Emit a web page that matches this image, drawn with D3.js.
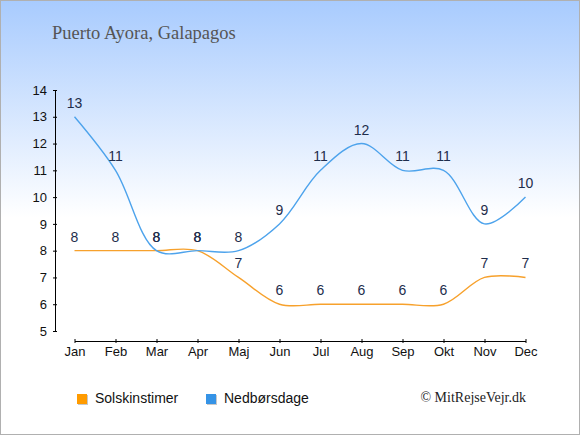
<!DOCTYPE html>
<html>
<head>
<meta charset="utf-8">
<script src="https://cdn.jsdelivr.net/npm/d3@7"></script>
<style>
  body { margin: 0; }
  svg { display: block; }
  text { font-family: "Liberation Sans", Arial, sans-serif; }
</style>
</head>
<body>
<svg id="chart" width="580" height="435"></svg>
<script>
const months = ["Jan", "Feb", "Mar", "Apr", "Maj", "Jun", "Jul", "Aug", "Sep", "Okt", "Nov", "Dec"];
const solskinstimer = [8, 8, 8, 8, 7, 6, 6, 6, 6, 6, 7, 7];
const nedboersdage = [13, 11, 8, 8, 8, 9, 11, 12, 11, 11, 9, 10];
const yTicks = [5, 6, 7, 8, 9, 10, 11, 12, 13, 14];

const series = [
  {name: "Solskinstimer", values: solskinstimer, line: "#f7a12c", box: "#ff9b00"},
  {name: "Nedbørsdage", values: nedboersdage, line: "#4da3ec", box: "#3593e6"}
];

const width = 580, height = 435;
const svg = d3.select("#chart");

// background
const defs = svg.append("defs");
const grad = defs.append("linearGradient")
    .attr("id", "bg")
    .attr("x1", 0).attr("y1", 0).attr("x2", 0).attr("y2", 1);
grad.append("stop").attr("offset", 0).attr("stop-color", "#a8cbfe");
grad.append("stop").attr("offset", 0.5).attr("stop-color", "#ffffff");
grad.append("stop").attr("offset", 1).attr("stop-color", "#ffffff");

svg.append("rect")
    .attr("x", 0.5).attr("y", 0.5)
    .attr("width", width - 1).attr("height", height - 1)
    .attr("fill", "url(#bg)")
    .attr("stroke", "#b0b0b0");

svg.append("text")
    .attr("x", 52).attr("y", 39)
    .style("font-family", "'Liberation Serif', 'DejaVu Serif', serif")
    .style("font-size", "18.5px")
    .attr("fill", "#555")
    .text("Puerto Ayora, Galapagos");

const x = d3.scalePoint().domain(months).range([74.5, 525.5]);
const y = d3.scaleLinear().domain([5, 14]).range([331, 90]);

// y axis
svg.append("g")
    .attr("transform", "translate(55,0)")
    .call(d3.axisLeft(y).tickValues(yTicks).tickSizeInner(2).tickSizeOuter(0).tickPadding(6))
    .call(g => g.selectAll(".tick line").attr("x1", 2))
    .call(g => g.select(".domain").attr("stroke", "#000"))
    .call(g => g.selectAll(".tick text")
        .style("font-family", "'Liberation Sans', Arial, sans-serif")
        .style("font-size", "13px").attr("fill", "#111"));

// x axis
svg.append("g")
    .attr("transform", "translate(0,341)")
    .call(d3.axisBottom(x).tickSizeInner(2).tickSizeOuter(0).tickPadding(4))
    .call(g => g.selectAll(".tick line").attr("y1", -2))
    .call(g => g.select(".domain").attr("stroke", "#000"))
    .call(g => g.selectAll(".tick text")
        .style("font-family", "'Liberation Sans', Arial, sans-serif")
        .style("font-size", "13px").attr("fill", "#111"));

const line = d3.line()
    .x((d, i) => x(months[i]))
    .y(d => y(d))
    .curve(d3.curveCatmullRom.alpha(0.5));

series.forEach(s => {
  svg.append("path")
      .datum(s.values)
      .attr("fill", "none")
      .attr("stroke", s.line)
      .attr("stroke-width", 1.4)
      .attr("d", line);
});

series.forEach(s => {
  svg.append("g").selectAll("text")
      .data(s.values)
    .enter().append("text")
      .attr("x", (d, i) => x(months[i]))
      .attr("y", d => y(d) - 9)
      .attr("text-anchor", "middle")
      .style("font-size", "14px")
      .attr("fill", "#1e2d4c")
      .text(d => d);
});

// legend
const legend = svg.append("g");
const legX = [77, 206];
series.forEach((s, i) => {
  legend.append("rect")
      .attr("x", legX[i] + 1).attr("y", 395)
      .attr("width", 10).attr("height", 10)
      .attr("fill", "#c8c8c8");
  legend.append("rect")
      .attr("x", legX[i]).attr("y", 394)
      .attr("width", 10).attr("height", 10)
      .attr("fill", s.box);
  legend.append("text")
      .attr("x", legX[i] + 18).attr("y", 403)
      .style("font-size", "14px")
      .attr("fill", "#111")
      .text(s.name);
});

svg.append("text")
    .attr("x", 526).attr("y", 402)
    .attr("text-anchor", "end")
    .style("font-family", "'Liberation Serif', 'DejaVu Serif', serif")
    .style("font-size", "14px")
    .attr("fill", "#222")
    .text("© MitRejseVejr.dk");
</script>
</body>
</html>
